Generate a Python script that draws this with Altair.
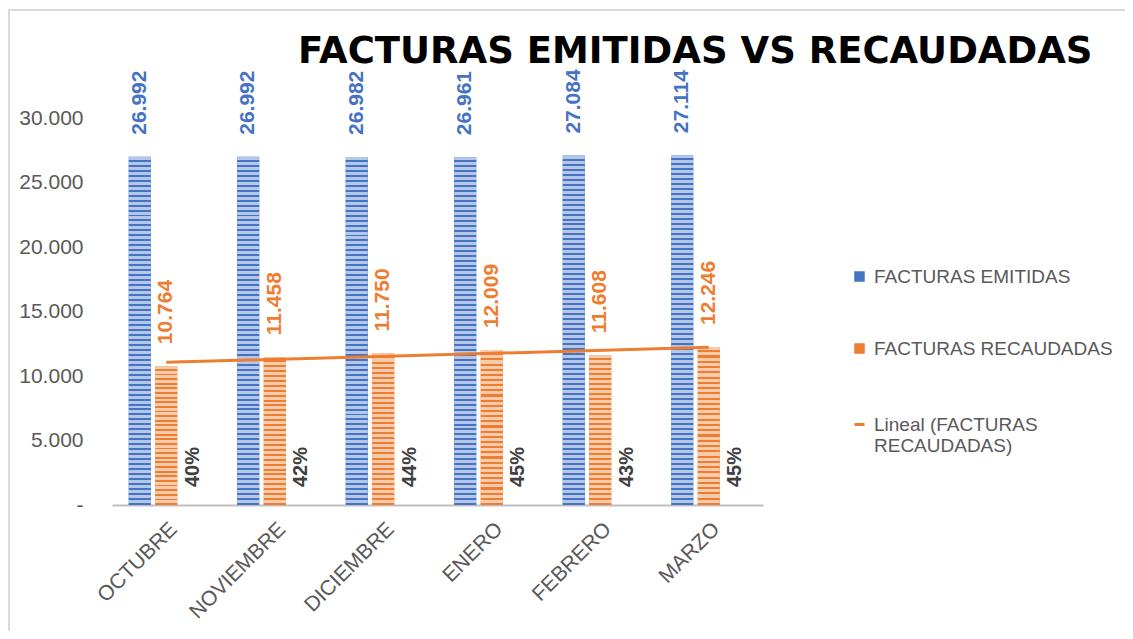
import json
import altair as alt
import pandas as pd

months = ["OCTUBRE", "NOVIEMBRE", "DICIEMBRE", "ENERO", "FEBRERO", "MARZO"]
emitidas = [26992, 26992, 26982, 26961, 27084, 27114]
recaudadas = [10764, 11458, 11750, 12009, 11608, 12246]
porcentajes = ["40%", "42%", "44%", "45%", "43%", "45%"]
series = ["FACTURAS EMITIDAS", "FACTURAS RECAUDADAS", "PORCENTAJE"]
trend_name = "Lineal (FACTURAS RECAUDADAS)"
title_text = "FACTURAS EMITIDAS VS RECAUDADAS"
y_ticks = [0, 5000, 10000, 15000, 20000, 25000, 30000]

BLUE, BLUE_L = "#4472C4", "#B4C7E7"
ORANGE, ORANGE_L = "#ED7D31", "#F8CBAD"
GRAY_TXT = "#595959"
FONT = "Liberation Sans"

rows = []
for i, m in enumerate(months):
    rows.append({"mes": m, "idx": i, "serie": series[0], "valor": emitidas[i]})
    rows.append({"mes": m, "idx": i, "serie": series[1], "valor": recaudadas[i]})
df = pd.DataFrame(rows)
pct_df = pd.DataFrame({"mes": months, "serie": series[2], "pct": porcentajes, "valor": 0})
rec_df = pd.DataFrame({"idx": list(range(len(months))), "valor": recaudadas})


def stripes(dark, light, n):
    stops = []
    f = 1.0 / n
    for k in range(n):
        a = k * f
        stops.append(alt.GradientStop(color=light, offset=a))
        stops.append(alt.GradientStop(color=light, offset=a + 0.6 * f))
        stops.append(alt.GradientStop(color=dark, offset=a + 0.6 * f))
        stops.append(alt.GradientStop(color=dark, offset=a + f))
    return alt.LinearGradient(gradient="linear", stops=stops, x1=0, x2=0, y1=0, y2=1)


x_enc = alt.X(
    "mes:N", sort=months,
    scale=alt.Scale(domain=months, paddingInner=0.267, paddingOuter=0.1335),
    axis=alt.Axis(title=None, labelAngle=-45, labelFont=FONT, labelFontSize=21,
                  labelColor=GRAY_TXT, domainColor="#BFBFBF", domainWidth=2,
                  ticks=False, labelPadding=13, grid=False),
)
xoff = alt.XOffset("serie:N", scale=alt.Scale(domain=series, paddingInner=0.17, paddingOuter=0.085))
y_enc = alt.Y(
    "valor:Q", scale=alt.Scale(domain=[0, 30000], nice=False),
    axis=alt.Axis(title=None, values=y_ticks, grid=False, domain=False, ticks=False,
                  labelFont=FONT, labelFontSize=21, labelColor=GRAY_TXT, labelPadding=29,
                  labelExpr="datum.value === 0 ? '-' : replace(format(datum.value, ','), ',', '.')"),
)

color_scale = alt.Scale(domain=[series[0], series[1]], range=[BLUE, ORANGE])
color_enc = alt.Color(
    "serie:N", scale=color_scale,
    legend=alt.Legend(
        title=None, orient="none", legendX=738, legendY=149, direction="vertical",
        labelFont=FONT, labelFontSize=19, labelColor=GRAY_TXT, labelLimit=0,
        labelOffset=5, symbolSize=110, symbolType="square", rowPadding=52, padding=0,
        symbolStrokeWidth=0,
    ),
)

base_bars = alt.Chart(df).mark_bar().encode(x=x_enc, xOffset=xoff, y=y_enc, color=color_enc)

blue_stripes = alt.Chart(df).transform_filter(
    alt.datum.serie == series[0]
).mark_bar(color=stripes(BLUE, BLUE_L, 70)).encode(x=x_enc, xOffset=xoff, y=y_enc)

orange_stripes = alt.Chart(df).transform_filter(
    alt.datum.serie == series[1]
).mark_bar(color=stripes(ORANGE, ORANGE_L, 30)).encode(x=x_enc, xOffset=xoff, y=y_enc)

trend = alt.Chart(rec_df).transform_regression(
    "idx", "valor", method="linear"
).transform_calculate(
    mes=f"{json.dumps(months)}[round(datum.idx)]",
    serie=f"'{series[1]}'",
    ley=f"'{trend_name}'",
).mark_line(strokeWidth=3).encode(
    x=x_enc, xOffset=xoff, y=y_enc,
    stroke=alt.Stroke(
        "ley:N", scale=alt.Scale(domain=[trend_name], range=[ORANGE]),
        legend=alt.Legend(
            title=None, orient="none", legendX=738, legendY=297, direction="vertical",
            labelFont=FONT, labelFontSize=19, labelColor=GRAY_TXT, labelLimit=0,
            labelOffset=5, symbolType="stroke", symbolSize=100, symbolStrokeWidth=3,
            padding=0,
            labelExpr=f"datum.label === '{trend_name}' ? ['Lineal (FACTURAS', 'RECAUDADAS)'] : datum.label",
        ),
    ),
)

value_labels = alt.Chart(df).transform_calculate(
    lab="replace(format(datum.valor, ','), ',', '.')"
).mark_text(angle=270, align="left", baseline="middle", dx=22, font=FONT,
            fontSize=21, fontWeight="bold").encode(
    x=x_enc, xOffset=xoff, y=y_enc, text="lab:N",
    color=alt.Color("serie:N", scale=color_scale, legend=None),
)

pct_labels = alt.Chart(pct_df).mark_text(
    angle=270, align="left", baseline="middle", dx=18, font=FONT, fontSize=20,
    fontWeight="bold", color="#404040"
).encode(x=x_enc, xOffset=xoff, y=y_enc, text="pct:N")

title_mark = alt.Chart(alt.Data(values=[{"t": title_text}])).mark_text(
    align="left", baseline="alphabetic", font="DejaVu Sans", fontSize=37,
    fontWeight="bold", color="#000000"
).encode(x=alt.value(186), y=alt.value(-55), text="t:N")

border = alt.Chart(alt.Data(values=[{"b": 1}])).mark_rect(
    fill="transparent", stroke="#D9D9D9", strokeWidth=2
).encode(x=alt.value(-103), x2=alt.value(1400), y=alt.value(-108), y2=alt.value(900))

chart = alt.layer(
    border, base_bars, blue_stripes, orange_stripes, trend, value_labels, pct_labels, title_mark
).properties(
    width=651, height=387,
    autosize=alt.AutoSizeParams(type="none"),
    padding={"left": 104, "top": 110, "right": 362, "bottom": 126},
).configure(background="white").configure_view(stroke=None)

chart.save("out.html", embed_options={"renderer": "svg", "actions": False})
